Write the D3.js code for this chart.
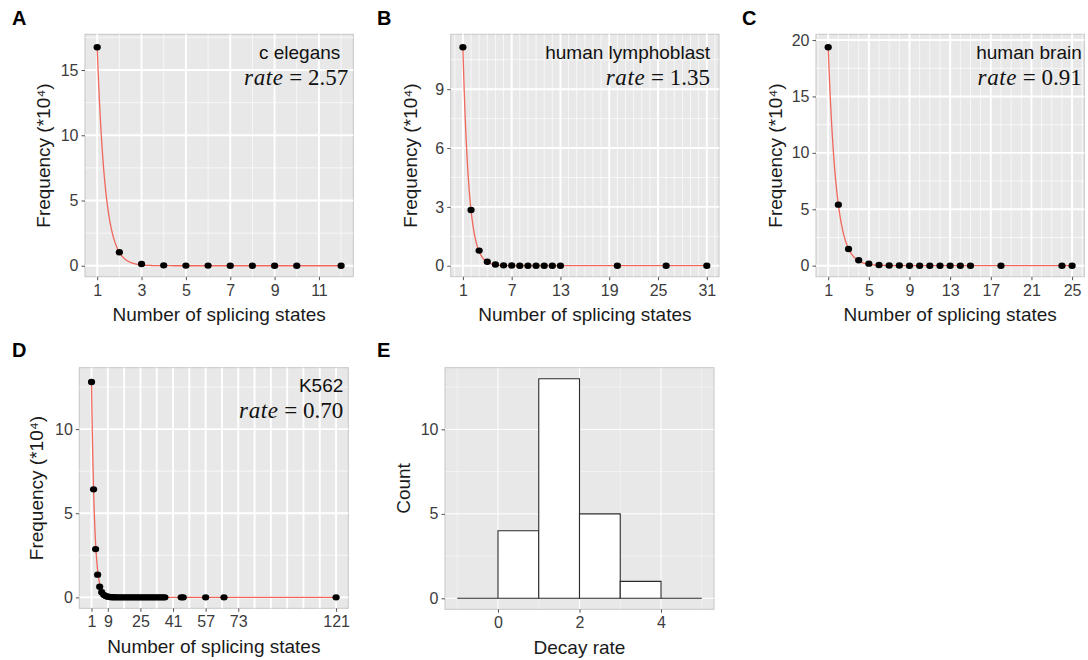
<!DOCTYPE html>
<html>
<head>
<meta charset="utf-8">
<script src="https://cdn.jsdelivr.net/npm/d3@7"></script>
<style>
  body { margin: 0; background: #fff; }
  svg text { font-family: "Liberation Sans", Arial, Helvetica, sans-serif; }
</style>
</head>
<body>
<svg id="fig" width="1088" height="660"></svg>
<script>
// ---- data: number of splicing states vs frequency (x10^4) ----
const statesA = [1, 2, 3, 4, 5, 6, 7, 8, 9, 10, 12];
const freqA   = [16.75, 1.03, 0.13, 0.03, 0.01, 0.01, 0, 0, 0, 0, 0];

const statesB = [1, 2, 3, 4, 5, 6, 7, 8, 9, 10, 11, 12, 13, 20, 26, 31];
const freqB   = [11.14, 2.84, 0.77, 0.2, 0.06, 0.02, 0.01, 0, 0, 0, 0, 0, 0, 0, 0, 0];

const statesC = [1, 2, 3, 4, 5, 6, 7, 8, 9, 10, 11, 12, 13, 14, 15, 18, 24, 25];
const freqC   = [19.36, 5.41, 1.48, 0.48, 0.18, 0.06, 0.02, 0.01, 0, 0, 0, 0, 0, 0, 0, 0, 0, 0];

const statesD = [1, 2, 3, 4, 5, 6, 7, 8, 9, 10, 11, 12, 13, 14, 15, 16, 17, 18, 19, 20,
                 21, 22, 23, 24, 25, 26, 27, 28, 29, 30, 31, 32, 33, 34, 35, 36, 37,
                 45, 46, 57, 66, 121];
const freqD   = [12.8, 6.42, 2.87, 1.35, 0.63, 0.3, 0.15, 0.08, 0.04, 0.02, 0.01, 0.01, 0, 0, 0, 0, 0, 0, 0, 0,
                 0, 0, 0, 0, 0, 0, 0, 0, 0, 0, 0, 0, 0, 0, 0, 0, 0,
                 0, 0, 0, 0, 0];

const sampleNames = ["c elegans", "human lymphoblast", "human brain", "K562"];
const rateLabels  = ["2.57", "1.35", "0.91", "0.70"];

// axis breaks
const xTicksA = [1, 3, 5, 7, 9, 11];
const yTicksA = [0, 5, 10, 15];
const xTicksB = [1, 7, 13, 19, 25, 31];
const yTicksB = [0, 3, 6, 9];
const xTicksC = [1, 5, 9, 13, 17, 21, 25];
const yTicksC = [0, 5, 10, 15, 20];
const xTicksD = [1, 9, 25, 41, 57, 73, 121];
const yTicksD = [0, 5, 10];

// ---- data: histogram of decay rates ----
const binEdges  = [-1, 0, 1, 2, 3, 4, 5];
const binCounts = [0, 4, 13, 5, 1, 0];
const xTicksE = [0, 2, 4];
const yTicksE = [0, 5, 10];

// ---- drawing ----
const svg = d3.select("#fig");
const BG = "#e8e8e8";
const TICK_COL = "#3c3c3c";
const FIT_COL = "#f0675c";

function minorBreaks(major, dom) {
  const step = major[1] - major[0];
  const out = [];
  for (let v = major[0] - step / 2; v <= dom[1] + 1e-9; v += step) {
    if (v >= dom[0]) out.push(v);
  }
  return out;
}

function framePanel(cfg) {
  const g = svg.append("g");
  const x = d3.scaleLinear().domain(cfg.xDom).range([cfg.left, cfg.right]);
  const y = d3.scaleLinear().domain(cfg.yDom).range([cfg.bottom, cfg.top]);

  g.append("rect")
    .attr("x", cfg.left).attr("y", cfg.top)
    .attr("width", cfg.right - cfg.left).attr("height", cfg.bottom - cfg.top)
    .attr("fill", BG).attr("stroke", "#c6c6c6").attr("stroke-width", 1);

  const grid = g.append("g");
  const xMinor = cfg.xMinor || minorBreaks(cfg.xTicks, cfg.xDom);
  const yMinor = minorBreaks(cfg.yTicks, cfg.yDom);
  const mw = cfg.minorW, Mw = cfg.majorW;

  grid.selectAll(".ymin").data(yMinor).join("line")
    .attr("x1", cfg.left).attr("x2", cfg.right)
    .attr("y1", d => y(d)).attr("y2", d => y(d))
    .attr("stroke", "#fff").attr("stroke-width", mw).attr("opacity", 0.75);
  grid.selectAll(".xmin").data(xMinor).join("line")
    .attr("y1", cfg.top).attr("y2", cfg.bottom)
    .attr("x1", d => x(d)).attr("x2", d => x(d))
    .attr("stroke", "#fff").attr("stroke-width", mw).attr("opacity", 0.75);
  grid.selectAll(".ymaj").data(cfg.yTicks).join("line")
    .attr("x1", cfg.left).attr("x2", cfg.right)
    .attr("y1", d => y(d)).attr("y2", d => y(d))
    .attr("stroke", "#fff").attr("stroke-width", Mw);
  grid.selectAll(".xmaj").data(cfg.xTicksGrid || cfg.xTicks).join("line")
    .attr("y1", cfg.top).attr("y2", cfg.bottom)
    .attr("x1", d => x(d)).attr("x2", d => x(d))
    .attr("stroke", "#fff").attr("stroke-width", Mw);

  // axes
  const fmt = d3.format("d");
  const ax = g.append("g")
    .attr("transform", `translate(0,${cfg.bottom})`)
    .call(d3.axisBottom(x).tickValues(cfg.xTicks).tickFormat(fmt).tickSize(3.5).tickPadding(4));
  const ay = g.append("g")
    .attr("transform", `translate(${cfg.left},0)`)
    .call(d3.axisLeft(y).tickValues(cfg.yTicks).tickFormat(fmt).tickSize(3.5).tickPadding(3));
  [ax, ay].forEach(a => {
    a.select(".domain").remove();
    a.selectAll(".tick line").attr("stroke", "#555");
    a.selectAll(".tick text").attr("fill", TICK_COL)
      .style("font-size", "16px")
      .style("font-family", '"Liberation Sans", Arial, sans-serif');
  });

  // axis titles
  g.append("text")
    .attr("x", (cfg.left + cfg.right) / 2).attr("y", cfg.bottom + 44.7)
    .attr("text-anchor", "middle").attr("fill", "#1a1a1a")
    .style("font-size", "19px").text(cfg.xTitle);
  g.append("text")
    .attr("transform", `translate(${cfg.yTitleX},${(cfg.top + cfg.bottom) / 2}) rotate(-90)`)
    .attr("text-anchor", "middle").attr("dy", "0.35em").attr("fill", "#1a1a1a")
    .style("font-size", "19px").text(cfg.yTitle);

  // panel tag
  svg.append("text")
    .attr("x", cfg.tagX).attr("y", cfg.tagY)
    .attr("fill", "#000").style("font-size", "20px").style("font-weight", "bold")
    .text(cfg.tag);

  return { g, x, y };
}

function scatterPanel(cfg, states, freq, name, rate) {
  const { g, x, y } = framePanel(cfg);

  // exponential decay through the leading points
  const k = Math.log(freq[0] / freq[1]) / (states[1] - states[0]);
  const a = freq[0], x0 = states[0], xEnd = states[states.length - 1];
  const xs = d3.range(0, 801).map(i => x0 + (xEnd - x0) * Math.pow(i / 800, 2));
  const line = d3.line().x(d => x(d)).y(d => y(a * Math.exp(-k * (d - x0))));
  g.append("path").datum(xs).attr("d", line)
    .attr("fill", "none").attr("stroke", FIT_COL).attr("stroke-width", 1.3);

  g.selectAll(".pt").data(states).join("ellipse")
    .attr("cx", d => x(d)).attr("cy", (d, i) => y(freq[i]))
    .attr("rx", 3.6).attr("ry", 3.2).attr("fill", "#000");

  // annotation
  g.append("text").attr("x", cfg.right - cfg.nameInset).attr("y", cfg.top + 24.5)
    .attr("text-anchor", "end").attr("fill", "#111").style("font-size", "19px").text(name);
  const t = g.append("text").attr("x", cfg.right - cfg.annoInset).attr("y", cfg.top + 50.5)
    .attr("text-anchor", "end").attr("fill", "#111")
    .style("font-family", '"Liberation Serif", "Times New Roman", serif')
    .style("font-size", "23px");
  t.append("tspan").style("font-style", "italic").style("letter-spacing", "0.6px").text("rate");
  t.append("tspan").text(" = " + rate);
}

const common = { minorW: 0.9, majorW: 1.9, xTitle: "Number of splicing states", yTitle: "Frequency (*10\u2074)" };

scatterPanel(Object.assign({}, common, {
  tag: "A", tagX: 12, tagY: 25,
  left: 85, right: 353.3, top: 34.3, bottom: 276.7,
  xDom: [0.45, 12.55], yDom: [-0.84, 17.74],
  xTicks: xTicksA, yTicks: yTicksA, yTitleX: 43, annoInset: 5, nameInset: 13
}), statesA, freqA, sampleNames[0], rateLabels[0]);

scatterPanel(Object.assign({}, common, {
  tag: "B", tagX: 377, tagY: 25,
  left: 450.7, right: 719, top: 34.3, bottom: 276.7,
  xDom: [-0.5, 32.5], yDom: [-0.56, 11.8],
  xTicks: xTicksB, yTicks: yTicksB, yTitleX: 410, annoInset: 9, nameInset: 9,
  xMinor: d3.range(0, 33)
}), statesB, freqB, sampleNames[1], rateLabels[1]);

scatterPanel(Object.assign({}, common, {
  tag: "C", tagX: 742, tagY: 25,
  left: 816, right: 1084.3, top: 34.3, bottom: 276.7,
  xDom: [-0.2, 26.2], yDom: [-0.977, 20.51],
  xTicks: xTicksC, yTicks: yTicksC, yTitleX: 775, annoInset: 2.5, nameInset: 2.5,
  xMinor: d3.range(0, 27)
}), statesC, freqC, sampleNames[2], rateLabels[2]);

scatterPanel(Object.assign({}, common, {
  tag: "D", tagX: 12, tagY: 357,
  left: 79.3, right: 348.3, top: 367.7, bottom: 608.3,
  xDom: [-5, 127], yDom: [-0.65, 13.65],
  xTicks: xTicksD, yTicks: yTicksD, yTitleX: 36.7, annoInset: 5, nameInset: 5,
  xTicksGrid: d3.range(1, 122, 8), xMinor: []
}), statesD, freqD, sampleNames[3], rateLabels[3]);

// ---- E: histogram ----
(function () {
  const cfg = Object.assign({}, common, {
    tag: "E", tagX: 377, tagY: 357,
    left: 445, right: 714, top: 367.7, bottom: 609.3,
    xDom: [-1.3, 5.3], yDom: [-0.65, 13.65],
    xTicks: xTicksE, yTicks: yTicksE, yTitleX: 403.3,
    minorW: 0.6, majorW: 1.0,
    xTitle: "Decay rate", yTitle: "Count"
  });
  const { g, x, y } = framePanel(cfg);
  const bins = binCounts.map((c, i) => ({ x0: binEdges[i], x1: binEdges[i + 1], c }));
  g.selectAll(".bar").data(bins).join("path")
    .attr("d", d => `M${x(d.x0)},${y(0)}V${y(d.c)}H${x(d.x1)}V${y(0)}Z`)
    .attr("fill", "#fff").attr("stroke", "#2b2b2b").attr("stroke-width", 1.1);
})();
</script>
</body>
</html>
